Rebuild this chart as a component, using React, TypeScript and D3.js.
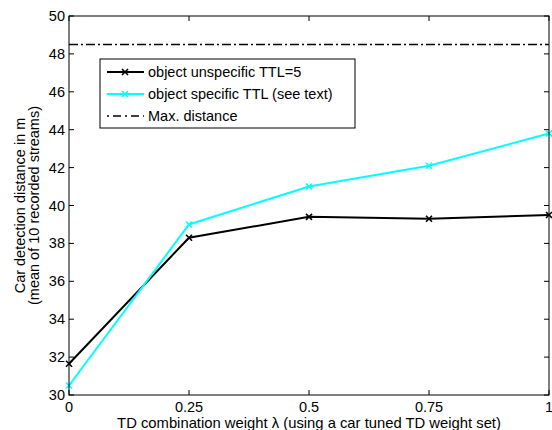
import { line, scaleLinear } from "d3";

const lambdas = [0, 0.25, 0.5, 0.75, 1];
const unspecific = [31.65, 38.3, 39.4, 39.3, 39.5];
const specific = [30.5, 39.0, 41.0, 42.1, 43.8];
const maxDistance = 48.5;
const xTicks = [0, 0.25, 0.5, 0.75, 1];
const xTickLabels = ["0", "0.25", "0.5", "0.75", "1"];
const yTicks = [30, 32, 34, 36, 38, 40, 42, 44, 46, 48, 50];
const legendLabels = [
  "object unspecific TTL=5",
  "object specific TTL (see text)",
  "Max. distance",
];

const W = 552;
const H = 430;
const margin = { top: 16, right: 3, bottom: 35, left: 69 };
const font = "Liberation Sans, Arial, sans-serif";

const Marker = ({ x, y, color }: { x: number; y: number; color: string }) => (
  <g stroke={color} strokeWidth={1.6}>
    <line x1={x - 3} y1={y - 3} x2={x + 3} y2={y + 3} />
    <line x1={x - 3} y1={y + 3} x2={x + 3} y2={y - 3} />
  </g>
);

export default function App() {
  const x = scaleLinear().domain([0, 1]).range([margin.left, W - margin.right]);
  const y = scaleLinear().domain([30, 50]).range([H - margin.bottom, margin.top]);
  const path = line<number>()
    .x((_, i) => x(lambdas[i]))
    .y((d) => y(d));

  const series = [
    { values: unspecific, color: "#000000" },
    { values: specific, color: "#00ffff" },
  ];

  const x0 = x.range()[0];
  const x1 = x.range()[1];
  const yb = y.range()[0];
  const yt = y.range()[1];
  const tk = 5;

  // legend box
  const lg = { x: 100, y: 59, w: 255, h: 69 };
  const rowY = (i: number) => lg.y + 13 + i * 22;

  return (
    <svg
      width={W}
      height={H}
      style={{ position: "absolute", left: 0, top: 0, background: "#fff" }}
      fontFamily={font}
    >
      <rect x={0} y={0} width={W} height={H} fill="#fff" />
      {/* ticks */}
      {xTicks.map((t, i) => (
        <g key={"xt" + i}>
          <line x1={x(t)} x2={x(t)} y1={yb} y2={yb - tk} stroke="#000" />
          <line x1={x(t)} x2={x(t)} y1={yt} y2={yt + tk} stroke="#000" />
          <text x={x(t)} y={yb + 17} fontSize={14.5} textAnchor="middle">
            {xTickLabels[i]}
          </text>
        </g>
      ))}
      {yTicks.map((t) => (
        <g key={"yt" + t}>
          <line x1={x0} x2={x0 + tk} y1={y(t)} y2={y(t)} stroke="#000" />
          <line x1={x1} x2={x1 - tk} y1={y(t)} y2={y(t)} stroke="#000" />
          <text x={x0 - 4} y={y(t) + 5} fontSize={14.5} textAnchor="end">
            {t}
          </text>
        </g>
      ))}
      {/* max distance */}
      <line
        x1={x0}
        x2={x1}
        y1={y(maxDistance)}
        y2={y(maxDistance)}
        stroke="#000"
        strokeWidth={1.6}
        strokeDasharray="9 3 2 3"
      />
      {series.map((s, si) => (
        <g key={"s" + si}>
          <path d={path(s.values) || ""} fill="none" stroke={s.color} strokeWidth={2} />
          {s.values.map((v, i) => (
            <Marker key={i} x={x(lambdas[i])} y={y(v)} color={s.color} />
          ))}
        </g>
      ))}
      {/* frame */}
      <rect x={x0} y={yt} width={x1 - x0} height={yb - yt} fill="none" stroke="#000" />
      {/* legend */}
      <rect x={lg.x} y={lg.y} width={lg.w} height={lg.h} fill="#fff" stroke="#000" />
      {legendLabels.map((l, i) => (
        <g key={"lg" + i}>
          {i < 2 ? (
            <>
              <line
                x1={lg.x + 7}
                x2={lg.x + 44}
                y1={rowY(i)}
                y2={rowY(i)}
                stroke={series[i].color}
                strokeWidth={2}
              />
              <Marker x={lg.x + 25} y={rowY(i)} color={series[i].color} />
            </>
          ) : (
            <line
              x1={lg.x + 7}
              x2={lg.x + 44}
              y1={rowY(i)}
              y2={rowY(i)}
              stroke="#000"
              strokeWidth={1.6}
              strokeDasharray="2 4 8 4"
            />
          )}
          <text x={lg.x + 48} y={rowY(i) + 5} fontSize={14.5}>
            {l}
          </text>
        </g>
      ))}
      {/* axis labels */}
      <text x={(x0 + x1) / 2} y={428} fontSize={14.8} textAnchor="middle">
        TD combination weight λ (using a car tuned TD weight set)
      </text>
      <g transform={`translate(25, ${(yt + yb) / 2}) rotate(-90)`}>
        <text x={0} y={0} fontSize={14.5} textAnchor="middle">
          Car detection distance in m
        </text>
        <text x={0} y={14} fontSize={14.5} textAnchor="middle">
          (mean of 10 recorded streams)
        </text>
      </g>
    </svg>
  );
}
